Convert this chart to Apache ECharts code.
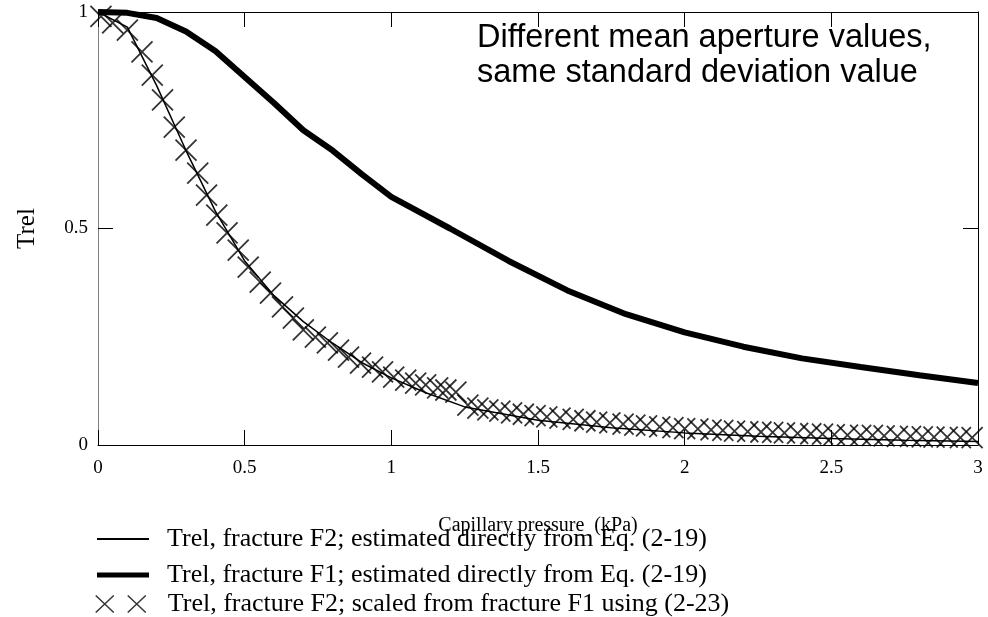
<!DOCTYPE html>
<html>
<head>
<meta charset="utf-8">
<script src="https://cdn.jsdelivr.net/npm/echarts@6/dist/echarts.min.js"></script>
<style>
  html, body { margin: 0; background: #fff; }
  #chart { width: 988px; height: 617px; }
</style>
</head>
<body>
<div id="chart"></div>
<script>
// Trel vs capillary pressure (kPa)
const f1X = [0, 0.1, 0.2, 0.3, 0.4, 0.5, 0.6, 0.7, 0.8, 0.9, 1.0, 1.2, 1.4, 1.6, 1.8, 2.0, 2.2, 2.4, 2.6, 2.8, 3.0];
const f1Y = [1, 0.998, 0.986, 0.955, 0.91, 0.85, 0.79, 0.727, 0.68, 0.625, 0.573, 0.50, 0.425, 0.357, 0.302, 0.26, 0.227, 0.20, 0.18, 0.161, 0.143];

const f2X = [0, 0.1, 0.2, 0.3, 0.4, 0.5, 0.6, 0.7, 0.8, 0.9, 1.0, 1.12, 1.25, 1.5, 1.75, 2.0, 2.25, 2.5, 2.75, 3.0];
const f2Y = [1, 0.965, 0.83, 0.68, 0.54, 0.425, 0.345, 0.285, 0.235, 0.19, 0.155, 0.12, 0.088, 0.057, 0.04, 0.028, 0.02, 0.015, 0.011, 0.008];

const scaledX = [0.01, 0.05, 0.10, 0.15, 0.185, 0.22, 0.26, 0.30, 0.34, 0.37, 0.405, 0.44, 0.478, 0.512, 0.553, 0.588,
  0.629, 0.666, 0.70, 0.741, 0.782, 0.82, 0.854, 0.895, 0.936, 0.97, 1.008, 1.049, 1.083, 1.117, 1.158, 1.186, 1.22,
  1.261, 1.295, 1.329, 1.37, 1.41, 1.45, 1.49, 1.53, 1.575, 1.62, 1.66, 1.70, 1.745, 1.79, 1.83, 1.87, 1.915, 1.96,
  2.0, 2.045, 2.09, 2.13, 2.17, 2.215, 2.26, 2.30, 2.34, 2.385, 2.43, 2.47, 2.51, 2.555, 2.60, 2.64, 2.68, 2.725,
  2.77, 2.81, 2.85, 2.895, 2.94, 2.98];
const scaledY = [0.99, 0.975, 0.958, 0.908, 0.854, 0.797, 0.734, 0.681, 0.628, 0.577, 0.531, 0.49, 0.45, 0.411, 0.376, 0.351,
  0.319, 0.293, 0.266, 0.249, 0.236, 0.219, 0.203, 0.189, 0.18, 0.169, 0.157, 0.15, 0.143, 0.139, 0.132, 0.127, 0.122,
  0.092, 0.085, 0.081, 0.078, 0.074, 0.071, 0.068, 0.065, 0.062, 0.059, 0.056, 0.053, 0.051, 0.048, 0.046, 0.044, 0.042, 0.040,
  0.038, 0.037, 0.035, 0.034, 0.032, 0.031, 0.030, 0.029, 0.028, 0.027, 0.026, 0.025, 0.024, 0.023, 0.022, 0.022, 0.021, 0.020,
  0.020, 0.019, 0.018, 0.018, 0.017, 0.017];

const nameF2 = 'Trel, fracture F2; estimated directly from Eq. (2-19)';
const nameF1 = 'Trel, fracture F1; estimated directly from Eq. (2-19)';
const nameScaled = 'Trel, fracture F2; scaled from fracture F1 using (2-23)';

const zip = (xs, ys) => xs.map((x, i) => [x, ys[i]]);
const serif = '"Liberation Serif", "Times New Roman", serif';
const crossIcon = 'path://M0,0L10,10M10,0L0,10';
const twoCrossIcon = 'path://M0,0L18,17M18,0L0,17M32,0L50,17M50,0L32,17';

const chart = echarts.init(document.getElementById('chart'));

const tickStyle = { show: true, inside: true, length: 15, lineStyle: { color: '#000', width: 1 } };
const legendText = { fontFamily: serif, fontSize: 26, color: '#000', padding: [0, 0, 0, 13] };

chart.setOption({
  animation: false,
  grid: { left: 98, right: 10, top: 12, bottom: 172, containLabel: false },
  xAxis: [
    {
      type: 'value', min: 0, max: 3, interval: 0.5, position: 'bottom',
      axisLine: { onZero: false, lineStyle: { color: '#000', width: 1 } },
      axisTick: tickStyle,
      axisLabel: { fontFamily: serif, fontSize: 19, color: '#000', margin: 14 },
      splitLine: { show: false },
      name: 'Capillary pressure  (kPa)', nameLocation: 'middle', nameGap: 71,
      nameTextStyle: { fontFamily: serif, fontSize: 20, color: '#000' }
    },
    {
      type: 'value', min: 0, max: 3, interval: 0.5, position: 'top',
      axisLine: { onZero: false, lineStyle: { color: '#000', width: 1 } },
      axisTick: tickStyle, axisLabel: { show: false }, splitLine: { show: false }
    }
  ],
  yAxis: [
    {
      type: 'value', min: 0, max: 1, interval: 0.5, position: 'left',
      axisLine: { show: true, onZero: false, lineStyle: { color: '#808080', width: 1 } },
      axisTick: tickStyle,
      axisLabel: { fontFamily: serif, fontSize: 19, color: '#000', margin: 10 },
      splitLine: { show: false },
      name: 'Trel', nameLocation: 'middle', nameGap: 58, nameRotate: 90,
      nameTextStyle: { fontFamily: serif, fontSize: 25, color: '#000' }
    },
    {
      type: 'value', min: 0, max: 1, interval: 0.5, position: 'right',
      axisLine: { show: true, onZero: false, lineStyle: { color: '#000', width: 1 } },
      axisTick: tickStyle, axisLabel: { show: false }, splitLine: { show: false }
    }
  ],
  legend: [
    {
      data: [{ name: nameF2, icon: 'rect' }], left: 97, top: 526, padding: 0,
      itemWidth: 52, itemHeight: 2, selectedMode: false, textStyle: legendText
    },
    {
      data: [{ name: nameF1, icon: 'rect' }], left: 97, top: 562, padding: 0,
      itemWidth: 52, itemHeight: 5, selectedMode: false, textStyle: legendText
    },
    {
      data: [{ name: nameScaled, icon: twoCrossIcon }], left: 95, top: 591, padding: 0,
      itemWidth: 50, itemHeight: 17, selectedMode: false, textStyle: { ...legendText, padding: [0, 0, 0, 17] },
      itemStyle: { color: 'rgba(0,0,0,0)', borderColor: '#000', borderWidth: 1.5 }
    }
  ],
  graphic: [
    {
      type: 'text', left: 477, top: 21,
      style: {
        text: 'Different mean aperture values,\nsame standard deviation value',
        fontFamily: '"Liberation Sans", Arial, sans-serif', fontSize: 32.5, lineHeight: 35, fill: '#000'
      }
    }
  ],
  series: [
    {
      name: nameF2, type: 'line', data: zip(f2X, f2Y), showSymbol: false, z: 3,
      color: '#000', lineStyle: { color: '#000', width: 1.5 }
    },
    {
      name: nameF1, type: 'line', data: zip(f1X, f1Y), showSymbol: false, z: 3,
      color: '#000', lineStyle: { color: '#000', width: 6 }
    },
    {
      name: nameScaled, type: 'scatter', data: zip(scaledX, scaledY), z: 4,
      symbol: crossIcon, symbolSize: 21,
      itemStyle: { color: 'rgba(0,0,0,0)', borderColor: '#000', borderWidth: 1.8 }
    }
  ]
});
</script>
</body>
</html>
